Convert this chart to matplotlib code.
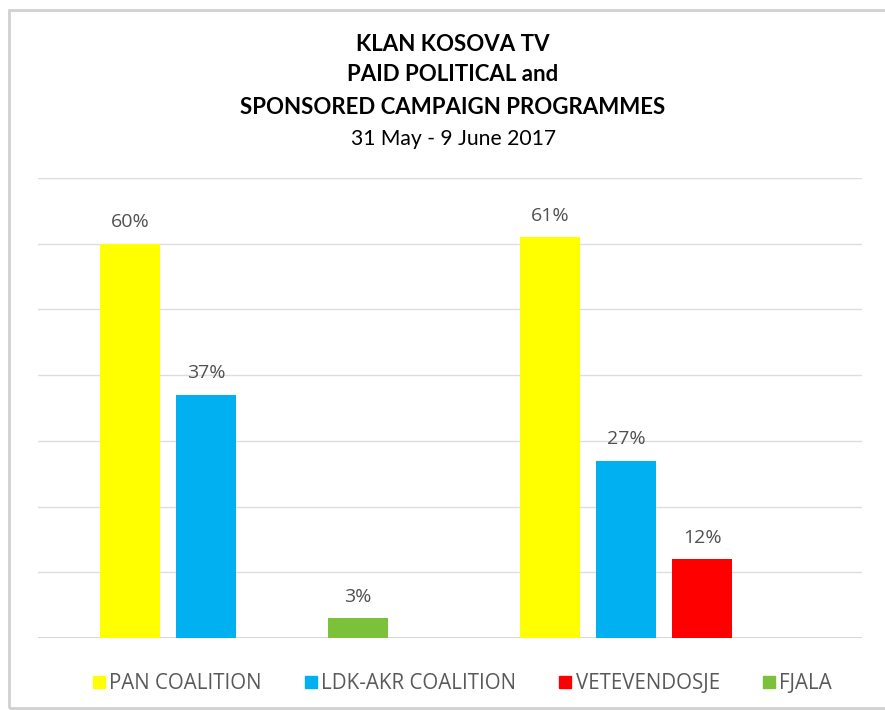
import numpy as np
import matplotlib.pyplot as plt
from matplotlib.lines import Line2D
from matplotlib.patches import Rectangle

plt.rcParams['font.family'] = ['Lato', 'DejaVu Sans']

parties = ['PAN COALITION', 'LDK-AKR COALITION', 'VETEVENDOSJE', 'FJALA']
colors = ['#FFFF00', '#00B0F0', '#FF0000', '#7CC13A']
# two (unlabelled) categories, percentage per party; None = no bar
values = [
    [60, 61],
    [37, 27],
    [None, 12],
    [3, None],
]

fig = plt.figure(figsize=(8.85, 7.10), dpi=100)
fig.patches.append(Rectangle((9/885, 2/710), 1.0, 698/710, transform=fig.transFigure,
                             fill=False, edgecolor='#D0D0D0', lw=2))

ax = fig.add_axes([38/885, 72/710, 824/885, 460/710])
x = np.arange(2)
step = 0.181
width = 0.143
for i, (party, col) in enumerate(zip(parties, colors)):
    for j in range(2):
        v = values[i][j]
        if v is None:
            continue
        xp = x[j] + (i - 1.5) * step
        ax.bar(xp, v, width, color=col, zorder=3)
        ax.annotate(f'{v}%', (xp, v), xytext=(0, 15.5), textcoords='offset points',
                    ha='center', va='center', fontsize=14, color='#505050',
                    family=['Open Sans', 'DejaVu Sans'])

ax.set_xlim(-0.4905, 1.471)
ax.set_ylim(0, 70)
ax.set_yticks(np.arange(0, 71, 10))
ax.yaxis.grid(True, color='#DDDDDD', lw=1)
ax.set_axisbelow(True)
ax.tick_params(left=False, bottom=False, labelleft=False, labelbottom=False)
for s in ax.spines.values():
    s.set_visible(False)
ax.axhline(0, color='#D0D0D0', lw=1.2, zorder=2)

fig.text(0.512, 0.937, 'KLAN KOSOVA TV', ha='center', va='center', fontsize=16, fontweight='bold')
fig.text(0.512, 0.895, 'PAID POLITICAL and', ha='center', va='center', fontsize=16, fontweight='bold')
fig.text(0.512, 0.849, 'SPONSORED CAMPAIGN PROGRAMMES', ha='center', va='center', fontsize=16, fontweight='bold')
fig.text(0.512, 0.804, '31 May - 9 June 2017', ha='center', va='center', fontsize=15.2)

handles = [Line2D([], [], marker='s', ls='', color=c, markersize=9) for c in colors]
fig.legend(handles, parties, loc='center', bbox_to_anchor=(0.52, 0.037), ncol=4, frameon=False,
           prop={'family': ['Open Sans', 'DejaVu Sans'], 'size': 14.8}, labelcolor='#595959',
           handletextpad=0.0, columnspacing=1.9, handlelength=1.0)

fig.savefig('out.png', dpi=100)
